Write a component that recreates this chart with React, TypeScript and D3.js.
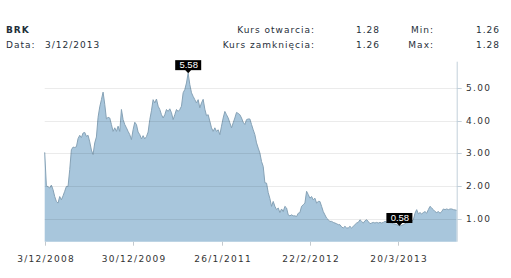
import React from "react";
import * as d3 from "d3";

const TICKER = "BRK";
const DATE_LABEL = "Data:";
const DATE_VALUE = "3/12/2013";
const STAT_LABELS = ["Kurs otwarcia:", "Kurs zamknięcia:"];
const STAT_VALUES = ["1.28", "1.26"];
const RANGE_LABELS = ["Min:", "Max:"];
const RANGE_VALUES = ["1.26", "1.28"];

const START_DATE = "2008-12-03";
const END_DATE = "2013-12-03";
const X_TICKS = ["2008-12-03", "2009-12-30", "2011-01-26", "2012-02-22", "2013-03-20"];
const X_TICK_LABELS = ["3/12/2008", "30/12/2009", "26/1/2011", "22/2/2012", "20/3/2013"];
const Y_TICKS = [1, 2, 3, 4, 5];

const prices2009 = [3.03,2.01,1.98,1.94,2.03,1.89,1.68,1.53,1.48,1.68,
1.58,1.70,1.84,1.99,1.99,2.50,3.11,3.19,3.18,3.20,
3.45,3.55,3.48,3.62,3.64,3.52,3.55,3.35,3.10,2.96,
3.32,3.50,4.10,4.42,4.64,4.87,4.50,4.05,4.10];
const prices2010 = [4.08,3.88,3.67,3.78,3.67,3.83,3.67,4.34,4.03,3.88,
3.78,3.67,3.57,3.42,3.72,3.95,3.88,3.65,3.57,3.44,
3.54,3.44,3.51,3.65,4.03,4.30,4.64,4.54,4.66,4.44,
4.34,4.18,4.08,4.18,4.34,4.28,4.36,4.24,4.03,4.18,
4.34,4.28];
const prices2011 = [4.34,4.44,4.85,4.95,5.15,5.45,5.10,4.85,4.74,4.64,
4.54,4.64,4.39,4.54,4.65,4.35,4.15,4.18,3.98,3.78,
3.67,3.78,3.67,3.72,3.57,3.83,4.08,4.28,4.18,4.08,
3.93,3.78,3.93,4.08,4.25,4.22,4.18,4.08,3.95,3.88,
4.03,4.05];
const prices2012 = [4.05,3.88,3.72,3.57,3.32,3.16,3.01,2.75,2.60,2.10,
2.09,1.80,1.62,1.38,1.53,1.38,1.28,1.33,1.19,1.30,
1.22,1.38,1.33,1.12,1.09,1.12,1.09,1.09,1.07,1.17,
1.19,1.38,1.43,1.48,1.84,1.74,1.63,1.68,1.58,1.63,
1.48,1.53];
const prices2013a = [1.53,1.38,1.22,1.12,1.02,0.97,0.92,0.92,0.89,0.87,
0.85,0.82,0.82,0.75,0.72,0.77,0.72,0.72,0.77,0.72,
0.77,0.82,0.87,0.89,0.97,0.92,0.87,0.94,0.97,0.92,
0.85,0.87,0.89,0.87,0.89,0.87,0.89,0.87,0.89,0.92,
0.90,0.88];
const prices2013b = [0.88,0.87,0.85,0.84,0.82,0.80,0.78,0.80,0.82,0.85,
0.87,0.88,0.90,0.92,0.97,1.17,1.28,1.15,1.19,1.15,
1.19,1.22,1.17,1.28,1.38,1.33,1.28,1.22,1.19,1.22,
1.17,1.22,1.30,1.28,1.30,1.28,1.30,1.30,1.28,1.27,
1.26];

const MARKER_DATES = ["2010-08-31", "2013-03-24"];
const MARKER_LABELS = ["5.58", "0.58"];

const FONT = "'DejaVu Sans', Verdana, sans-serif";

export default function App() {
  const W = 511, H = 278;
  const left = 44.7, right = 456.7, top = 61.7, bottom = 241.7;
  const values = [...prices2009, ...prices2010, ...prices2011, ...prices2012, ...prices2013a, ...prices2013b];
  const t0 = new Date(START_DATE + "T00:00:00");
  const t1 = new Date(END_DATE + "T00:00:00");
  const n = values.length;
  const dateAt = d3.scaleLinear().domain([0, n - 1]).range([t0.getTime(), t1.getTime()]);
  const data = values.map((v, i) => ({ date: new Date(dateAt(i)), value: v }));

  const x = d3.scaleTime().domain([t0, t1]).range([left, right]);
  const y = d3.scaleLinear().domain([0.3, 5.8]).range([bottom, top]);

  const area = d3.area<{ date: Date; value: number }>()
    .x(d => x(d.date)).y0(bottom).y1(d => y(d.value));
  const line = d3.line<{ date: Date; value: number }>()
    .x(d => x(d.date)).y(d => y(d.value));

  const bis = d3.bisector((d: { date: Date }) => d.date).center;
  const markers = MARKER_DATES.map((ds, k) => {
    const dt = new Date(ds + "T00:00:00");
    const idx = bis(data, dt);
    return { px: x(dt), py: y(data[idx].value), label: MARKER_LABELS[k] };
  });

  const fmt = d3.format(".2f");
  const textCol = "#333";

  return (
    <div style={{ position: "absolute", left: 0, top: 0 }}>
      <svg width={W} height={H} style={{ display: "block", background: "#fff" }} fontFamily={FONT}>
        {/* header */}
        <g fontSize={9} fill="#1f2f3a" letterSpacing={1}>
          <text x={6} y={32.5} fontWeight="bold">{TICKER}</text>
          <text x={6} y={47.5}>{DATE_LABEL}</text>
          <text x={45} y={47.5}>{DATE_VALUE}</text>
          {STAT_LABELS.map((s, i) => (
            <text key={s} x={315} y={32.5 + i * 15} textAnchor="end">{s}</text>
          ))}
          {STAT_VALUES.map((s, i) => (
            <text key={"sv" + i} x={380} y={32.5 + i * 15} textAnchor="end">{s}</text>
          ))}
          {RANGE_LABELS.map((s, i) => (
            <text key={s} x={434} y={32.5 + i * 15} textAnchor="end">{s}</text>
          ))}
          {RANGE_VALUES.map((s, i) => (
            <text key={"rv" + i} x={500} y={32.5 + i * 15} textAnchor="end">{s}</text>
          ))}
        </g>

        {/* area */}
        <path d={area(data) || ""} fill="#a8c6dc" />
        <path d={line(data) || ""} fill="none" stroke="#86a2b6" strokeWidth={1} />

        {/* gridlines */}
        {Y_TICKS.map(t => (
          <line key={t} x1={left} x2={right} y1={Math.round(y(t)) + 0.5} y2={Math.round(y(t)) + 0.5}
            stroke="#000" strokeOpacity={0.08} />
        ))}

        {/* right axis */}
        <line x1={right + 0.5} x2={right + 0.5} y1={top} y2={bottom} stroke="#c3d0da" />
        {Y_TICKS.map(t => (
          <g key={"yt" + t}>
            <line x1={right} x2={right + 5} y1={Math.round(y(t)) + 0.5} y2={Math.round(y(t)) + 0.5} stroke="#c3d0da" />
            <text x={466} y={y(t)} dy="0.35em" fontSize={9} letterSpacing={1.3} fill={textCol}>{fmt(t)}</text>
          </g>
        ))}

        {/* bottom axis */}
        {X_TICKS.map((ds, i) => {
          const px = Math.round(x(new Date(ds + "T00:00:00"))) + 0.5;
          return (
            <g key={ds}>
              <line x1={px} x2={px} y1={bottom} y2={bottom + 4} stroke="#c3c9ce" />
              <text x={px + 0.6} y={262} textAnchor="middle" fontSize={9} letterSpacing={1.3} fill={textCol}>
                {X_TICK_LABELS[i]}
              </text>
            </g>
          );
        })}

        {/* extreme markers */}
        {markers.map(m => (
          <g key={m.label}>
            <rect x={m.px - 13} y={m.py - 13} width={26} height={10} fill="#000" />
            <path d={`M${m.px - 3},${m.py - 3.2}L${m.px + 3},${m.py - 3.2}L${m.px},${m.py}Z`} fill="#000" />
            <text x={m.px + 0.5} y={m.py - 8} dy="0.35em" textAnchor="middle" fontSize={9.5}
              fontFamily="'Liberation Sans', Arial, sans-serif" fill="#fff">{m.label}</text>
          </g>
        ))}
      </svg>
    </div>
  );
}
